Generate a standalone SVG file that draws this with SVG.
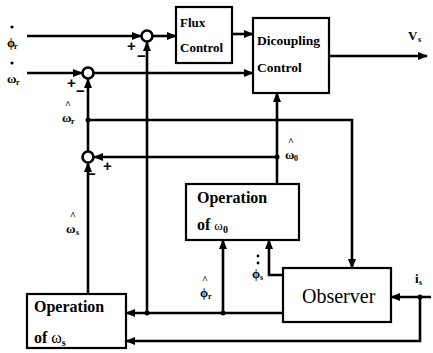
<svg xmlns="http://www.w3.org/2000/svg" width="433" height="353" viewBox="0 0 433 353">
<defs>
<marker id="ah" markerWidth="10" markerHeight="8" refX="9" refY="4" orient="auto" markerUnits="userSpaceOnUse">
<path d="M0,0 L10,4 L0,8 Z" fill="#000"/>
</marker>
<style>
.box{fill:#fff;stroke:#000;stroke-width:2.2}
.ln{fill:none;stroke:#000;stroke-width:2.6}
.arr{fill:none;stroke:#000;stroke-width:2.6;marker-end:url(#ah)}
.sum{fill:#fff;stroke:#000;stroke-width:2.6}
.bt{font-family:"Liberation Serif",serif;font-weight:bold;fill:#000}
.lb{font-family:"Liberation Serif",serif;font-weight:bold;fill:#000;font-size:13px}
.hat{font-family:"Liberation Serif",serif;font-weight:bold;fill:#000;font-size:10px}
.sub{font-family:"Liberation Serif",serif;font-weight:bold;fill:#000;font-size:8px}
.sg{font-family:"Liberation Sans",sans-serif;font-weight:bold;fill:#000;font-size:15px}
</style>
</defs>
<rect width="433" height="353" fill="#fff"/>
<g id="connectors">
<line class="arr" x1="27" y1="36" x2="141" y2="36"/>
<line class="arr" x1="153" y1="36" x2="176" y2="36"/>
<line class="arr" x1="232" y1="34" x2="253" y2="34"/>
<line class="arr" x1="27" y1="73" x2="82" y2="73"/>
<line class="arr" x1="94" y1="73" x2="253" y2="73"/>
<line class="arr" x1="329" y1="56" x2="427" y2="56"/>
<line class="arr" x1="88" y1="151" x2="88" y2="79"/>
<polyline class="arr" points="88,120 352,120 352,268"/>
<line class="arr" x1="277" y1="184" x2="277" y2="93"/>
<line class="arr" x1="277" y1="157" x2="94" y2="157"/>
<line class="arr" x1="88" y1="294" x2="88" y2="163"/>
<line class="arr" x1="283" y1="313" x2="126" y2="313"/>
<line class="arr" x1="147" y1="313" x2="147" y2="42"/>
<line class="arr" x1="223" y1="313" x2="223" y2="240"/>
<polyline class="arr" points="283,275 269,275 269,240"/>
<line class="arr" x1="431" y1="297" x2="391" y2="297"/>
<polyline class="arr" points="420,297 420,341 126,341"/>
<circle cx="88" cy="120" r="2.5" fill="#000"/>
<circle cx="277" cy="157" r="2.5" fill="#000"/>
<circle cx="147" cy="313" r="2.5" fill="#000"/>
<circle cx="223" cy="313" r="2.5" fill="#000"/>
<circle cx="420" cy="297" r="2.5" fill="#000"/>
</g>
<g id="sum1">
<circle class="sum" cx="147" cy="36" r="5.5"/>
<text class="sg" x="127" y="51">+</text>
<text class="sg" x="137" y="61">−</text>
</g>
<g id="sum2">
<circle class="sum" cx="88" cy="73" r="5.5"/>
<text class="sg" x="67" y="88">+</text>
<text class="sg" x="76" y="96">−</text>
</g>
<g id="sum3">
<circle class="sum" cx="88" cy="157" r="5.5"/>
<text class="sg" x="103" y="171">+</text>
<text class="sg" x="87" y="179">−</text>
</g>
<g id="flux">
<rect class="box" x="176" y="7" width="56" height="56"/>
<text class="bt" x="180" y="27" font-size="13">Flux</text>
<text class="bt" x="180" y="52" font-size="13">Control</text>
</g>
<g id="decoupling">
<rect class="box" x="253" y="18" width="76" height="75"/>
<text class="bt" x="257" y="45" font-size="13.5">Dicoupling</text>
<text class="bt" x="257" y="72" font-size="13.5">Control</text>
</g>
<g id="opw0">
<rect class="box" x="186" y="184" width="113" height="56"/>
<text class="bt" x="197" y="203" font-size="16">Operation</text>
<text class="bt" x="197" y="230" font-size="16">of <tspan font-weight="normal" font-size="13">ω</tspan><tspan font-size="10" dy="3">0</tspan></text>
</g>
<g id="opws">
<rect class="box" x="27" y="294" width="99" height="54"/>
<text class="bt" x="34" y="312" font-size="16">Operation</text>
<text class="bt" x="34" y="343" font-size="16">of <tspan font-weight="normal">ω</tspan><tspan font-size="10" dy="3">s</tspan></text>
</g>
<g id="observer">
<rect class="box" x="283" y="268" width="108" height="54"/>
<text x="302" y="303" font-family="Liberation Serif, serif" font-size="20" fill="#000">Observer</text>
</g>
<g id="labels">
<circle cx="12" cy="27" r="1.6" fill="#000"/>
<text class="lb" x="7" y="47">ϕ</text><text class="sub" x="14" y="49">r</text>
<circle cx="12" cy="63" r="1.6" fill="#000"/>
<text class="lb" x="7" y="83">ω</text><text class="sub" x="16" y="85">r</text>
<text class="hat" x="65" y="108">^</text>
<text class="lb" x="62" y="122">ω</text><text class="sub" x="71" y="124">r</text>
<text class="hat" x="288" y="145">^</text>
<text class="lb" x="285" y="159">ω</text><text class="sub" x="294" y="161">0</text>
<text class="hat" x="70" y="219">^</text>
<text class="lb" x="66" y="233">ω</text><text class="sub" x="76" y="235">s</text>
<text class="hat" x="202" y="283">^</text>
<text class="lb" x="200" y="297">ϕ</text><text class="sub" x="208" y="299">r</text>
<circle cx="258" cy="256" r="1.4" fill="#000"/>
<circle cx="258" cy="263" r="1.4" fill="#000"/>
<text class="lb" x="252" y="278">ϕ</text><text class="sub" x="260" y="280">s</text>
<text class="lb" x="408" y="40">V</text><text class="sub" x="418" y="42">s</text>
<text class="lb" x="415" y="283">i</text><text class="sub" x="419" y="285">s</text>
</g>
</svg>
